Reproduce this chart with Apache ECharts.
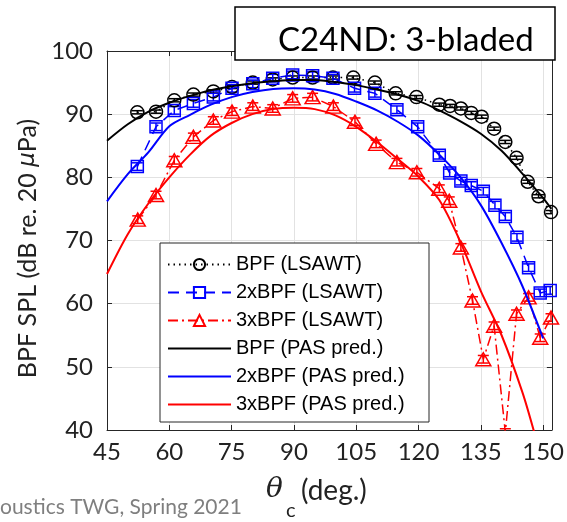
<!DOCTYPE html>
<html><head><meta charset="utf-8">
<script src="https://cdn.jsdelivr.net/npm/echarts@6/dist/echarts.min.js"></script>
<style>html,body{margin:0;padding:0;background:#fff}#c{width:567px;height:522px}</style>
</head><body><div id="c"></div>
<script>
// ---- data ----
const thetaBPF  = [52.3,56.8,61.2,65.8,70.6,75.1,80.1,84.9,89.7,94.5,99.4,104.3,109.5,114.5,119.5,125.0,127.6,130.2,132.7,135.2,138.2,140.9,143.6,146.3,148.9,151.9];
const splBPF    = [90.3,90.4,92.2,93.1,93.6,94.3,95.0,95.5,95.8,95.8,95.8,95.8,95.0,93.3,92.7,91.5,91.3,90.9,90.2,89.6,87.7,85.6,83.1,79.3,77.0,74.5];
const theta2BPF = [52.3,56.8,61.2,65.8,70.6,75.1,80.1,84.9,89.7,94.5,99.4,104.6,109.5,114.8,119.8,125.0,127.5,130.2,132.7,135.6,138.4,140.9,143.7,146.5,149.3,151.7];
const spl2BPF   = [81.7,88.0,90.6,91.7,92.7,94.1,94.8,95.7,96.2,96.1,95.7,94.1,93.3,90.7,88.0,83.5,80.7,79.4,78.7,77.8,75.6,73.8,70.5,65.7,61.7,62.1];
const theta3BPF = [52.4,56.8,61.2,65.8,70.6,75.1,80.1,84.9,89.7,94.5,99.5,104.7,109.8,114.8,119.6,125.0,127.4,130.2,133.0,135.6,138.2,140.9,143.6,146.5,149.3,151.9];
const spl3BPF   = [73.3,77.2,82.7,86.4,89.0,90.4,91.2,90.9,92.5,92.7,91.2,88.8,85.3,82.4,80.8,78.2,76.3,68.9,60.5,51.2,56.5,39.6,58.4,61.0,54.6,57.8];
// error-bar half-heights (dB), about constant in the picture
const errBPF  = 0.25;
const err2BPF = 0.6;
const err3BPF = 0.6;

const thetaPred = [45,50,55,60,65,70,75,80,85,90,95,100,105,110,115,120,125,130,135,140,145,150,152];
const predBPF   = [85.8,88.4,90.4,91.8,92.9,93.8,94.4,94.9,95.2,95.4,95.4,95.1,94.6,93.9,93.1,92.1,90.6,88.9,86.9,84.2,80.6,76.7,75.0];
const thetaPred2 = [45,50,55,60,65,70,75,80,85,90,95,100,105,110,115,120,125,130,135,140,145,150];
const pred2BPF  = [76.2,80.5,84.0,88.1,89.9,91.5,92.7,93.5,94.0,94.1,93.9,93.2,92.0,90.6,88.8,86.6,83.6,80.1,75.6,69.6,62.8,54.5];
const thetaPred3 = [45,50,55,60,65,70,75,80,85,90,95,100,105,110,115,120,125,130,135,140,145,148];
const pred3BPF  = [64.7,71.0,75.9,80.0,83.6,86.6,88.6,90.0,90.8,91.0,90.8,89.8,88.0,85.6,82.9,80.1,76.4,69.9,62.0,55.0,46.0,39.3];

const legendNames = ['BPF (LSAWT)','2xBPF (LSAWT)','3xBPF (LSAWT)','BPF (PAS pred.)','2xBPF (PAS pred.)','3xBPF (PAS pred.)'];

const X_MIN = 45, X_MAX = 152.1, Y_MIN = 40, Y_MAX = 100;
const pairs = (xs, ys) => xs.map((x, i) => [x, ys[i]]);
const triples = (xs, ys, e) => xs.map((x, i) => [x, ys[i], e]);

function errRender(color) {
  return function (params, api) {
    const x = api.value(0), v = api.value(1), e = api.value(2);
    if (v + e < Y_MIN) return;
    const lo = Math.max(v - e, Y_MIN), hi = Math.min(v + e, Y_MAX);
    const pLo = api.coord([x, lo]), pHi = api.coord([x, hi]);
    const w = 5.5;
    const st = { stroke: color, lineWidth: 1.5, fill: null };
    const ch = [{ type: 'line', shape: { x1: pLo[0], y1: pLo[1], x2: pHi[0], y2: pHi[1] }, style: st }];
    if (v - e >= Y_MIN) ch.push({ type: 'line', shape: { x1: pLo[0] - w, y1: pLo[1], x2: pLo[0] + w, y2: pLo[1] }, style: st });
    ch.push({ type: 'line', shape: { x1: pHi[0] - w, y1: pHi[1], x2: pHi[0] + w, y2: pHi[1] }, style: st });
    return { type: 'group', children: ch };
  };
}

const axisCol = '#262626';
const labFont = 'Lato';
const chart = echarts.init(document.getElementById('c'), null, { renderer: 'canvas' });
const isTick = v => Math.abs(v / 15 - Math.round(v / 15)) < 1e-6 && v <= 150.0001;

chart.setOption({
  animation: false,
  grid: { left: 107, right: 12, top: 51, bottom: 92, containLabel: false },
  xAxis: [
    { type: 'value', min: X_MIN, max: X_MAX, interval: 15, position: 'bottom',
      axisLine: { show: true, onZero: false, lineStyle: { color: axisCol, width: 1 } },
      axisTick: { show: true, inside: true, length: 5, lineStyle: { color: axisCol } },
      axisLabel: { margin: 10, fontFamily: labFont, fontSize: 24, color: '#222',
        formatter: v => isTick(v) ? String(Math.round(v)) : '' },
      splitLine: { show: true, lineStyle: { color: '#e2e2e2', width: 1 } } },
    { type: 'value', min: X_MIN, max: X_MAX, interval: 15, position: 'top',
      axisLine: { show: true, onZero: false, lineStyle: { color: axisCol, width: 1 } },
      axisTick: { show: true, inside: true, length: 5, lineStyle: { color: axisCol } },
      axisLabel: { show: false }, splitLine: { show: false } }
  ],
  yAxis: [
    { type: 'value', min: Y_MIN, max: Y_MAX, interval: 10, position: 'left',
      name: '{a|BPF SPL (dB re. 20 }{m|μ}{a|Pa)}', nameLocation: 'middle', nameGap: 60, nameRotate: 90,
      nameTextStyle: { padding: [0, 16, 0, 0],
        rich: { a: { fontFamily: labFont, fontSize: 25, color: '#222' },
                m: { fontFamily: 'DejaVu Sans', fontStyle: 'italic', fontSize: 23, color: '#222' } } },
      axisLine: { show: true, onZero: false, lineStyle: { color: axisCol, width: 1 } },
      axisTick: { show: true, inside: true, length: 5, lineStyle: { color: axisCol } },
      axisLabel: { margin: 14, fontFamily: labFont, fontSize: 24, color: '#222' },
      splitLine: { show: true, lineStyle: { color: '#e2e2e2', width: 1 } } },
    { type: 'value', min: Y_MIN, max: Y_MAX, interval: 10, position: 'right',
      axisLine: { show: true, onZero: false, lineStyle: { color: axisCol, width: 1 } },
      axisTick: { show: true, inside: true, length: 5, lineStyle: { color: axisCol } },
      axisLabel: { show: false }, splitLine: { show: false } }
  ],
  legend: {
    data: legendNames.map((n, i) => i < 3 ? { name: n } : { name: n, itemStyle: { opacity: 0 } }),
    orient: 'vertical', left: 160, top: 243,
    itemWidth: 63, itemHeight: 14, itemGap: 7, padding: [11, 7, 8, 7],
    textStyle: { fontFamily: 'Liberation Sans', fontSize: 20, color: '#000', lineHeight: 21 },
    backgroundColor: 'transparent', z: 10, selectedMode: false
  },
  graphic: [
    { type: 'rect', z: 5, shape: { x: 160, y: 243, width: 269, height: 179 },
      style: { fill: '#fff', stroke: axisCol, lineWidth: 1 } },
    { type: 'rect', z: 20, shape: { x: 235, y: 7, width: 320, height: 53 },
      style: { fill: '#fff', stroke: '#000', lineWidth: 1.5 } },
    { type: 'text', z: 21, left: 278, top: 24,
      style: { text: 'C24ND: 3-bladed', font: '33px Lato', fill: '#000' } },
    { type: 'text', z: 21, left: 266, top: 476,
      style: { text: 'θ', font: 'italic 28px "DejaVu Serif"', fill: '#222' } },
    { type: 'text', z: 21, left: 286, top: 501,
      style: { text: 'c', font: '20px Lato', fill: '#222' } },
    { type: 'text', z: 21, left: 301, top: 477,
      style: { text: '(deg.)', font: '28px Lato', fill: '#222' } },
    { type: 'text', z: 21, left: 0, top: 497,
      style: { text: 'oustics TWG, Spring 2021', font: '21px Lato', fill: '#7f7f7f' } }
  ],
  series: [
    { name: 'BPF (LSAWT)', type: 'line', data: pairs(thetaBPF, splBPF), z: 3,
      symbol: 'circle', symbolSize: 13, color: '#000',
      itemStyle: { color: 'rgba(0,0,0,0)', borderColor: '#000', borderWidth: 1.5 },
      lineStyle: { color: '#000', width: 1.5, type: [1.5, 4] } },
    { name: '2xBPF (LSAWT)', type: 'line', data: pairs(theta2BPF, spl2BPF), z: 3,
      symbol: 'rect', symbolSize: 12, color: '#0000ff',
      itemStyle: { color: 'rgba(0,0,0,0)', borderColor: '#0000ff', borderWidth: 1.5 },
      lineStyle: { color: '#0000ff', width: 1.5, type: [11, 7] } },
    { name: '3xBPF (LSAWT)', type: 'line', data: pairs(theta3BPF, spl3BPF), z: 3,
      symbol: 'triangle', symbolSize: [15, 13], color: '#ff0000',
      itemStyle: { color: 'rgba(0,0,0,0)', borderColor: '#ff0000', borderWidth: 1.5 },
      lineStyle: { color: '#ff0000', width: 1.5, type: [10, 4, 2, 4] } },
    { name: 'BPF (PAS pred.)', type: 'line', data: pairs(thetaPred, predBPF), z: 4,
      symbol: 'none', smooth: 0.3, color: '#000', lineStyle: { color: '#000', width: 2 } },
    { name: '2xBPF (PAS pred.)', type: 'line', data: pairs(thetaPred2, pred2BPF), z: 4,
      symbol: 'none', smooth: 0.3, color: '#0000ff', lineStyle: { color: '#0000ff', width: 2 } },
    { name: '3xBPF (PAS pred.)', type: 'line', data: pairs(thetaPred3, pred3BPF), z: 4,
      symbol: 'none', smooth: 0.3, color: '#ff0000', lineStyle: { color: '#ff0000', width: 2 } },
    { name: 'errBPF', type: 'custom', data: triples(thetaBPF, splBPF, errBPF), renderItem: errRender('#000'), z: 3, clip: true },
    { name: 'err2BPF', type: 'custom', data: triples(theta2BPF, spl2BPF, err2BPF), renderItem: errRender('#0000ff'), z: 3, clip: true },
    { name: 'err3BPF', type: 'custom', data: triples(theta3BPF, spl3BPF, err3BPF), renderItem: errRender('#ff0000'), z: 3, clip: true }
  ]
});
</script></body></html>
